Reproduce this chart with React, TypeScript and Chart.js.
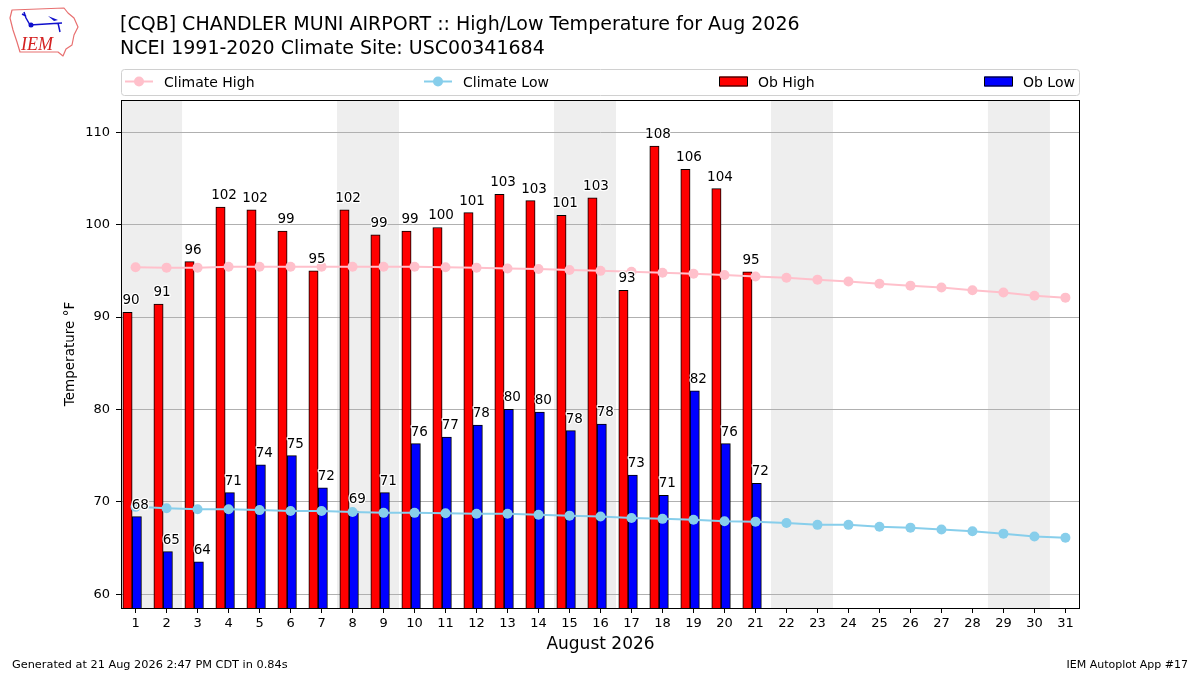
import React, { useEffect, useRef } from "react";
import { Chart, registerables } from "chart.js";

Chart.register(...registerables);

// ---------------- data ----------------
const DAYS = [1, 2, 3, 4, 5, 6, 7, 8, 9, 10, 11, 12, 13, 14, 15, 16, 17, 18, 19, 20, 21, 22, 23, 24, 25, 26, 27, 28, 29, 30, 31];
const OBS_DAYS = [1, 2, 3, 4, 5, 6, 7, 8, 9, 10, 11, 12, 13, 14, 15, 16, 17, 18, 19, 20, 21];
const OB_HIGH = [90.5, 91.4, 96.0, 101.9, 101.6, 99.3, 95.0, 101.6, 98.9, 99.3, 99.7, 101.3, 103.3, 102.6, 101.0, 102.9, 92.9, 108.5, 106.0, 103.9, 94.9];
const OB_LOW = [68.4, 64.6, 63.5, 71.0, 74.0, 75.0, 71.5, 69.0, 71.0, 76.3, 77.0, 78.3, 80.0, 79.7, 77.7, 78.4, 72.9, 70.7, 82.0, 76.3, 72.0];
const CLIMATE_HIGH = [95.4, 95.35, 95.35, 95.45, 95.45, 95.45, 95.45, 95.45, 95.45, 95.45, 95.4, 95.35, 95.25, 95.2, 95.1, 95.0, 94.9, 94.8, 94.7, 94.55, 94.4, 94.25, 94.05, 93.85, 93.6, 93.4, 93.2, 92.9, 92.65, 92.3, 92.1];
const CLIMATE_LOW = [69.45, 69.3, 69.2, 69.2, 69.1, 69.0, 69.0, 68.9, 68.8, 68.8, 68.75, 68.7, 68.7, 68.6, 68.5, 68.4, 68.25, 68.15, 68.05, 67.9, 67.85, 67.7, 67.5, 67.5, 67.3, 67.2, 67.0, 66.8, 66.55, 66.25, 66.1];
const WEEKEND_STARTS = [1, 8, 15, 22, 29];
const Y_TICKS = [60, 70, 80, 90, 100, 110];

const TITLE_LINES = [
  "[CQB] CHANDLER MUNI AIRPORT :: High/Low Temperature for Aug 2026",
  "NCEI 1991-2020 Climate Site: USC00341684",
];
const X_TITLE = "August 2026";
const Y_TITLE = "Temperature °F";
const FOOT_LEFT = "Generated at 21 Aug 2026 2:47 PM CDT in 0.84s";
const FOOT_RIGHT = "IEM Autoplot App #17";
const LEGEND_LABELS = ["Climate High", "Climate Low", "Ob High", "Ob Low"];

// ---------------- styling / layout ----------------
const FONT = '"DejaVu Sans", sans-serif';
const PINK = "#ffc0cb";
const SKY = "#87ceeb";
const RED = "#ff0000";
const BLUE = "#0000ff";
const X_MIN = 0.53;
const X_MAX = 31.47;
const Y_MIN = 58.5;
const Y_MAX = 113.5;
const AREA_LEFT = 121;
const AREA_RIGHT = 1080;
const AREA_TOP = 100;
const AREA_BOTTOM = 608;
const HIGH_SHIFT = 0.26; // high bar centred left of the day
const LOW_SHIFT = -0.04; // low bar centred just right of the day
const BAR_WIDTH_DAYS = 0.3;
const BAR_THICKNESS = (BAR_WIDTH_DAYS * (AREA_RIGHT - AREA_LEFT)) / (X_MAX - X_MIN);

function roundHalfEven(v: number): number {
  const f = Math.floor(v);
  const d = v - f;
  if (Math.abs(d - 0.5) < 1e-9) return f % 2 === 0 ? f : f + 1;
  return Math.round(v);
}

const bandsPlugin = {
  id: "bands",
  beforeDraw(chart: any) {
    const { ctx, chartArea: a, scales } = chart;
    const x = scales.x;
    ctx.save();
    ctx.fillStyle = "#ffffff";
    ctx.fillRect(0, 0, chart.width, chart.height);
    ctx.beginPath();
    ctx.rect(a.left, a.top, a.right - a.left, a.bottom - a.top);
    ctx.clip();
    ctx.fillStyle = "#eeeeee";
    for (const d of WEEKEND_STARTS) {
      const x0 = x.getPixelForValue(d - 0.5);
      const x1 = x.getPixelForValue(d + 1.5);
      ctx.fillRect(x0, a.top, x1 - x0, a.bottom - a.top);
    }
    ctx.restore();
  },
};

function drawLogo(ctx: CanvasRenderingContext2D) {
  ctx.save();
  ctx.strokeStyle = "#e87070";
  ctx.lineWidth = 1.2;
  ctx.beginPath();
  ctx.moveTo(12, 10);
  ctx.lineTo(64, 8);
  ctx.lineTo(68, 13);
  ctx.lineTo(74, 18);
  ctx.lineTo(78, 27);
  ctx.lineTo(74, 35);
  ctx.lineTo(72, 45);
  ctx.lineTo(66, 49);
  ctx.lineTo(63, 56);
  ctx.lineTo(58, 52);
  ctx.lineTo(20, 52);
  ctx.lineTo(17, 42);
  ctx.lineTo(13, 30);
  ctx.lineTo(10, 18);
  ctx.closePath();
  ctx.stroke();
  ctx.strokeStyle = "#1010cc";
  ctx.fillStyle = "#1010cc";
  ctx.lineWidth = 1.5;
  ctx.beginPath();
  ctx.moveTo(30, 25);
  ctx.lineTo(62, 23);
  ctx.moveTo(24, 12);
  ctx.lineTo(26, 18);
  ctx.lineTo(30, 25);
  ctx.moveTo(22, 14);
  ctx.lineTo(26, 16);
  ctx.moveTo(58, 23);
  ctx.lineTo(60, 32);
  ctx.stroke();
  ctx.beginPath();
  ctx.arc(31, 25, 2.5, 0, Math.PI * 2);
  ctx.fill();
  ctx.beginPath();
  ctx.moveTo(48, 16);
  ctx.lineTo(58, 20);
  ctx.lineTo(54, 21);
  ctx.closePath();
  ctx.fill();
  ctx.fillStyle = "#d42020";
  ctx.font = 'italic 18px "Liberation Serif", serif';
  ctx.textAlign = "left";
  ctx.textBaseline = "alphabetic";
  ctx.fillText("IEM", 21, 50);
  ctx.restore();
}

const overlayPlugin = {
  id: "overlay",
  afterDraw(chart: any) {
    const { ctx, chartArea: a, scales } = chart;
    const x = scales.x;
    const pxPerDay = x.getPixelForValue(2) - x.getPixelForValue(1);
    ctx.save();

    // frame
    ctx.strokeStyle = "#000";
    ctx.lineWidth = 1;
    ctx.strokeRect(a.left + 0.5, a.top + 0.5, a.right - a.left - 1, a.bottom - a.top);

    // bar value labels
    ctx.font = `13.5px ${FONT}`;
    ctx.textAlign = "center";
    ctx.textBaseline = "alphabetic";
    ctx.lineJoin = "round";
    chart.data.datasets.forEach((ds: any, di: number) => {
      if (ds.type !== "bar") return;
      const meta = chart.getDatasetMeta(di);
      meta.data.forEach((el: any, i: number) => {
        const txt = String(roundHalfEven(ds.data[i].y));
        const tx = el.x + 0.115 * pxPerDay;
        const ty = el.y - 8;
        ctx.strokeStyle = "#ffffff";
        ctx.lineWidth = 2.5;
        ctx.strokeText(txt, tx, ty);
        ctx.fillStyle = "#000";
        ctx.fillText(txt, tx, ty);
      });
    });

    // titles
    ctx.fillStyle = "#000";
    ctx.textAlign = "left";
    ctx.font = `19px ${FONT}`;
    ctx.fillText(TITLE_LINES[0], 120, 30);
    ctx.fillText(TITLE_LINES[1], 120, 54);

    // axis titles
    ctx.font = `17px ${FONT}`;
    ctx.textAlign = "center";
    ctx.fillText(X_TITLE, (a.left + a.right) / 2, 649);
    ctx.save();
    ctx.translate(70, (a.top + a.bottom) / 2);
    ctx.rotate(-Math.PI / 2);
    ctx.font = `13.5px ${FONT}`;
    ctx.textBaseline = "middle";
    ctx.fillText(Y_TITLE, 0, 0);
    ctx.restore();

    // footer
    ctx.font = `11.3px ${FONT}`;
    ctx.textAlign = "left";
    ctx.fillText(FOOT_LEFT, 12, 668);
    ctx.font = `11px ${FONT}`;
    ctx.textAlign = "right";
    ctx.fillText(FOOT_RIGHT, 1188, 668);

    // legend
    const ly = 69;
    const lh = 26;
    ctx.beginPath();
    (ctx as any).roundRect(a.left + 0.5, ly + 0.5, a.right - a.left - 1, lh, 3);
    ctx.fillStyle = "rgba(255,255,255,0.9)";
    ctx.fill();
    ctx.strokeStyle = "#d0d0d0";
    ctx.lineWidth = 1;
    ctx.stroke();
    const starts = [a.left + 4, a.left + 303, a.left + 598, a.left + 863];
    const cy = 81.5;
    const colors = [PINK, SKY, RED, BLUE];
    starts.forEach((sx, i) => {
      if (i < 2) {
        ctx.strokeStyle = colors[i];
        ctx.lineWidth = 2;
        ctx.beginPath();
        ctx.moveTo(sx, cy);
        ctx.lineTo(sx + 28, cy);
        ctx.stroke();
        ctx.fillStyle = colors[i];
        ctx.beginPath();
        ctx.arc(sx + 14, cy, 5, 0, Math.PI * 2);
        ctx.fill();
      } else {
        ctx.fillStyle = colors[i];
        ctx.fillRect(sx, cy - 5, 29, 10);
        ctx.strokeStyle = "#000";
        ctx.lineWidth = 1;
        ctx.strokeRect(sx + 0.5, cy - 4.5, 28, 9);
      }
      ctx.fillStyle = "#000";
      ctx.font = `14px ${FONT}`;
      ctx.textAlign = "left";
      ctx.textBaseline = "alphabetic";
      ctx.fillText(LEGEND_LABELS[i], sx + 39, 86.5);
    });

    drawLogo(ctx);
    ctx.restore();
  },
};

function hiddenDayAxis(shift: number) {
  return {
    type: "linear",
    display: false,
    offset: false,
    grid: { offset: false },
    min: X_MIN + shift,
    max: X_MAX + shift,
    afterBuildTicks: (s: any) => {
      s.ticks = DAYS.map((d) => ({ value: d }));
    },
  };
}

export default function App() {
  const canvasRef = useRef<HTMLCanvasElement | null>(null);

  useEffect(() => {
    if (!canvasRef.current) return;
    Chart.defaults.font.family = FONT;
    const chart = new Chart(canvasRef.current, {
      type: "bar",
      data: {
        datasets: [
          {
            type: "line",
            label: LEGEND_LABELS[0],
            data: DAYS.map((d, i) => ({ x: d, y: CLIMATE_HIGH[i] })),
            borderColor: PINK,
            backgroundColor: PINK,
            borderWidth: 2,
            pointRadius: 5,
            pointHoverRadius: 5,
            pointBorderWidth: 0,
            pointBackgroundColor: PINK,
            xAxisID: "x",
            yAxisID: "y",
            order: 1,
          },
          {
            type: "line",
            label: LEGEND_LABELS[1],
            data: DAYS.map((d, i) => ({ x: d, y: CLIMATE_LOW[i] })),
            borderColor: SKY,
            backgroundColor: SKY,
            borderWidth: 2,
            pointRadius: 5,
            pointHoverRadius: 5,
            pointBorderWidth: 0,
            pointBackgroundColor: SKY,
            xAxisID: "x",
            yAxisID: "y",
            order: 1,
          },
          {
            type: "bar",
            label: LEGEND_LABELS[2],
            data: OBS_DAYS.map((d, i) => ({ x: d, y: OB_HIGH[i] })),
            backgroundColor: RED,
            borderColor: "#000",
            borderWidth: 1,
            borderSkipped: "start",
            grouped: false,
            barThickness: BAR_THICKNESS,
            xAxisID: "xh",
            yAxisID: "y",
            order: 2,
            clip: 0,
          },
          {
            type: "bar",
            label: LEGEND_LABELS[3],
            data: OBS_DAYS.map((d, i) => ({ x: d, y: OB_LOW[i] })),
            backgroundColor: BLUE,
            borderColor: "#000",
            borderWidth: 1,
            borderSkipped: "start",
            grouped: false,
            barThickness: BAR_THICKNESS,
            xAxisID: "xl",
            yAxisID: "y",
            order: 2,
            clip: 0,
          },
        ] as any,
      },
      options: {
        responsive: false,
        animation: false,
        devicePixelRatio: 1,
        events: [],
        layout: { padding: { left: 0, top: AREA_TOP, right: 1200 - AREA_RIGHT, bottom: 0 } },
        plugins: {
          legend: { display: false },
          title: { display: false },
          tooltip: { enabled: false },
        },
        scales: {
          x: {
            type: "linear",
            position: "bottom",
            offset: false,
            min: X_MIN,
            max: X_MAX,
            afterBuildTicks: (s: any) => {
              s.ticks = DAYS.map((d) => ({ value: d }));
            },
            afterFit: (s: any) => {
              s.height = 675 - AREA_BOTTOM;
            },
            ticks: {
              autoSkip: false,
              maxRotation: 0,
              padding: 3,
              color: "#000",
              font: { size: 13, family: FONT },
              callback: (v: any) => String(v),
            },
            grid: {
              offset: false,
              drawOnChartArea: false,
              drawTicks: true,
              tickLength: 5,
              tickColor: "#000",
              color: "#000",
            },
            border: { display: false },
          },
          xh: hiddenDayAxis(HIGH_SHIFT),
          xl: hiddenDayAxis(LOW_SHIFT),
          y: {
            type: "linear",
            position: "left",
            min: Y_MIN,
            max: Y_MAX,
            afterBuildTicks: (s: any) => {
              s.ticks = Y_TICKS.map((v) => ({ value: v }));
            },
            afterFit: (s: any) => {
              s.width = AREA_LEFT;
            },
            ticks: {
              padding: 6,
              color: "#000",
              font: { size: 13, family: FONT },
            },
            grid: {
              color: "#b0b0b0",
              lineWidth: 1,
              tickLength: 5,
              tickColor: "#000",
            },
            border: { display: false },
          },
        },
      } as any,
      plugins: [bandsPlugin, overlayPlugin],
    });
    return () => chart.destroy();
  }, []);

  return (
    <div style={{ position: "fixed", left: 0, top: 0, width: 1200, height: 675, background: "#fff" }}>
      <canvas ref={canvasRef} width={1200} height={675} style={{ width: 1200, height: 675, display: "block" }} />
    </div>
  );
}
